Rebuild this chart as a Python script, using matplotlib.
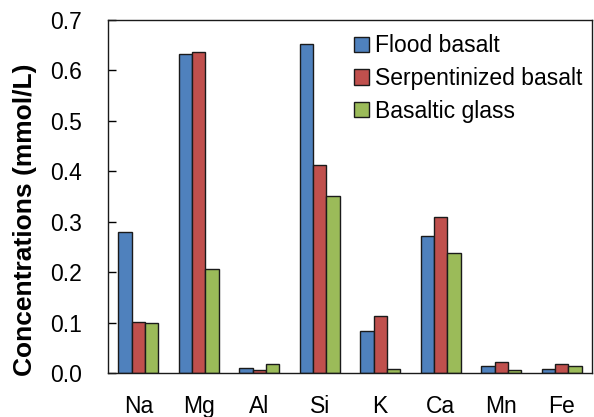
import numpy as np
import matplotlib.pyplot as plt

plt.rcParams['font.family'] = ['Liberation Sans', 'DejaVu Sans']

# Dissolved element concentrations per rock type
elements = ["Na", "Mg", "Al", "Si", "K", "Ca", "Mn", "Fe"]
flood_basalt = [0.279, 0.632, 0.009, 0.652, 0.084, 0.271, 0.014, 0.007]
serpentinized_basalt = [0.102, 0.636, 0.005, 0.412, 0.113, 0.309, 0.021, 0.017]
basaltic_glass = [0.099, 0.206, 0.017, 0.351, 0.008, 0.238, 0.005, 0.013]

series = [
    ("Flood basalt", flood_basalt, "#4F81BD"),
    ("Serpentinized basalt", serpentinized_basalt, "#C0504D"),
    ("Basaltic glass", basaltic_glass, "#9BBB59"),
]

fig = plt.figure(figsize=(5.94, 4.17), dpi=100)
ax = fig.add_axes([108 / 594, 44 / 417, 484 / 594, 353 / 417])

x = np.arange(len(elements))
w = 0.223
for i, (name, vals, col) in enumerate(series):
    ax.bar(x + (i - 1) * w, vals, width=w, color=col, edgecolor="#1a1a1a",
           linewidth=1.0, label=name)

ax.set_xlim(-0.5, len(elements) - 0.5)
ax.set_ylim(0, 0.7)
ax.set_yticks(np.arange(0, 0.71, 0.1))
ax.set_yticklabels([f"{v:.1f}" for v in np.arange(0, 0.71, 0.1)])
ax.set_xticks(x)
ax.set_xticklabels(elements)
ax.tick_params(axis="y", direction="in", length=6, width=1, labelsize=16.5, pad=19)
ax.tick_params(axis="x", length=0, labelsize=16.5, pad=16)
for s in ax.spines.values():
    s.set_linewidth(1.0)
    s.set_color("#1a1a1a")

ax.set_ylabel("Concentrations (mmol/L)", fontsize=19, fontweight="bold")
ax.yaxis.set_label_coords(-0.147, 0.433)

ax.legend(loc="upper left", bbox_to_anchor=(0.49, 0.985), frameon=False,
          fontsize=16.5, handlelength=0.65, handleheight=0.65, handletextpad=0.25,
          labelspacing=0.42, borderaxespad=0.0)

fig.savefig("out.png", dpi=100)
